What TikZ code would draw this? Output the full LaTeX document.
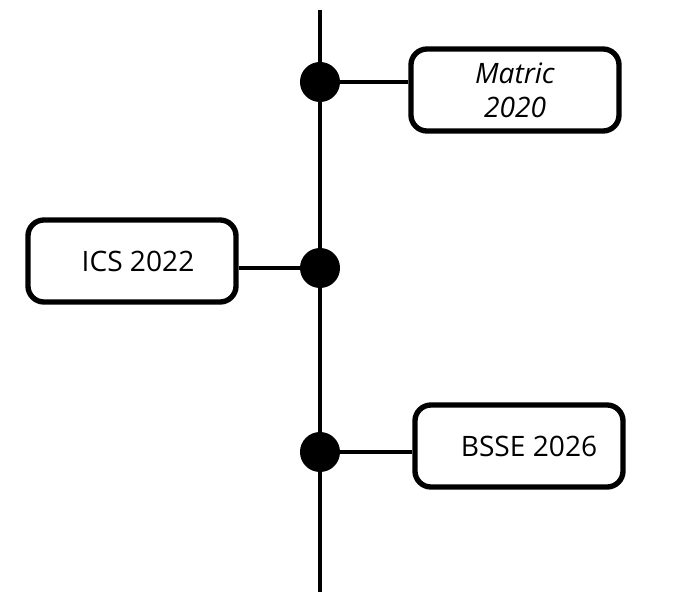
\documentclass[tikz,border=0pt]{standalone}
\usepackage{fontspec}
\setmainfont{Open Sans}
\usetikzlibrary{positioning}

\begin{document}
\begin{tikzpicture}[x=0.025cm,y=-0.025cm]

		\useasboundingbox (0,0) rectangle (685,604);

		\tikzset{TimeLine/.style =
				{line width=3.3pt, color=black}
		}
		\tikzset{EventDot/.style =
				{shape=circle, fill=black, minimum size = 1cm, inner sep=0pt}
		}
		\tikzset{EventBox/.style =
				{draw, line width=3.8pt, rounded corners=0.4cm, minimum width=5.2cm,
				minimum height=2.05cm, align=center, font=\fontsize{20}{24}\selectfont}
		}

		%axis
		\coordinate (top) at (320,10);
		\coordinate (bottom) at (320,592);
		\draw[TimeLine] (top) -- (bottom);

		%dots
		\node[EventDot] (matric) at (320,82) {};
		\node[EventDot] (ics) at (320,268) {};
		\node[EventDot] (bsse) at (320,452) {};

		%boxes
		\node[EventBox] (matricBox) at (515,90) {\textit{Matric}\\\textit{2020}};
		\node[EventBox] (icsBox) at (132,261) {\hspace*{0.3cm}ICS 2022};
		\node[EventBox] (bsseBox) at (519,446) {\hspace*{0.5cm}BSSE 2026};

		%links
		\draw[TimeLine] (matric.east) -- (matric.east -| matricBox.west);
		\draw[TimeLine] (ics.west) -- (ics.west -| icsBox.east);
		\draw[TimeLine] (bsse.east) -- (bsse.east -| bsseBox.west);

	\end{tikzpicture}
\end{document}
